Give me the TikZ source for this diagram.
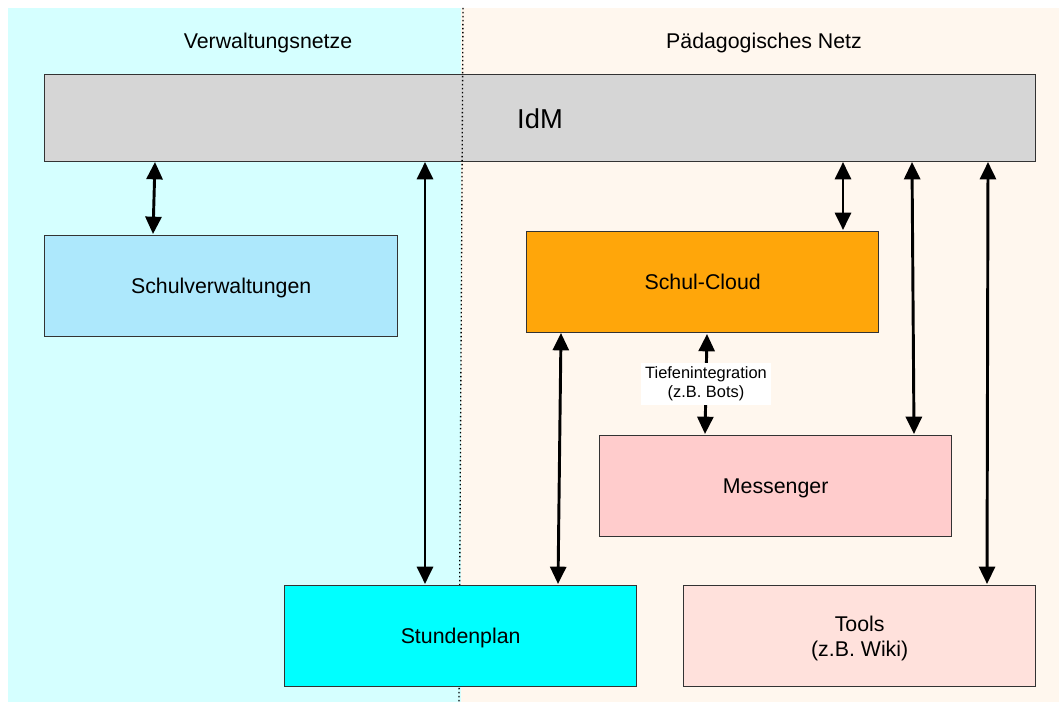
\documentclass[tikz,border=0pt]{standalone}
\usepackage{fontspec}
\setmainfont{Liberation Sans}
\usetikzlibrary{arrows.meta}
\definecolor{leftbg}{HTML}{D5FFFF}
\definecolor{rightbg}{HTML}{FFF7EE}
\definecolor{idmc}{HTML}{D6D6D6}
\definecolor{svc}{HTML}{ADE8FC}
\definecolor{scc}{HTML}{FFA60A}
\definecolor{msc}{HTML}{FFCCCC}
\definecolor{spc}{HTML}{00FFFF}
\definecolor{toc}{HTML}{FFE1DC}
\definecolor{bord}{HTML}{333333}
\tikzset{
  box/.style={draw=bord, line width=1pt, inner sep=0pt, anchor=north west, font=\fontsize{16}{19}\selectfont, align=center, text depth=-3pt},
  dbl/.style={{Triangle[length=13pt,width=12pt]}-{Triangle[length=13pt,width=12pt]}, line width=2.2pt, black},
  hdr/.style={font=\fontsize{16}{19}\selectfont}
}
\begin{document}
\begin{tikzpicture}[x=0.75pt,y=-0.75pt]
\useasboundingbox (0,0) rectangle (1059,702);
\fill[white] (0,0) rectangle (1059,702);
\fill[leftbg] (8,8) rectangle (461,702);
\fill[rightbg] (461,8) rectangle (1059,702);
\node[hdr] (hl) at (268,43) {Verwaltungsnetze};
\node[hdr] (hr) at (764,43) {Pädagogisches Netz};
\node[box, fill=idmc, minimum width=991*0.75pt, minimum height=87*0.75pt] (idm) at (44,74) {};
\node[font=\fontsize{20.5}{24}\selectfont] (idmt) at (540,119) {IdM};
\draw[dotted, line width=1pt] (463,8) -- (459,702);
\node[box, fill=svc, minimum width=353*0.75pt, minimum height=101*0.75pt] (sv) at (44,235) {Schulverwaltungen};
\node[box, fill=scc, minimum width=352*0.75pt, minimum height=101*0.75pt] (sc) at (526,231) {Schul-Cloud};
\node[box, fill=msc, minimum width=352*0.75pt, minimum height=101*0.75pt] (ms) at (599,435) {Messenger};
\node[box, fill=spc, minimum width=352*0.75pt, minimum height=101*0.75pt] (sp) at (284,585) {Stundenplan};
\node[box, fill=toc, minimum width=352*0.75pt, minimum height=101*0.75pt, text depth=0pt] (to) at (683,585) {Tools\\(z.B. Wiki)};
\coordinate (a1) at (155,162); \coordinate (b1) at (153,234);
\coordinate (a2) at (425,162); \coordinate (b2) at (425,584);
\coordinate (a3) at (843,162); \coordinate (b3) at (843,230);
\coordinate (a4) at (912,162); \coordinate (b4) at (914,434);
\coordinate (a5) at (988,162); \coordinate (b5) at (987,584);
\coordinate (a6) at (561,333); \coordinate (b6) at (558,584);
\coordinate (a7) at (707,334); \coordinate (b7) at (705,434);
\draw[dbl] (a1) -- (b1);
\draw[dbl] (a2) -- (b2);
\draw[dbl] (a3) -- (b3);
\draw[dbl] (a4) -- (b4);
\draw[dbl] (a5) -- (b5);
\draw[dbl] (a6) -- (b6);
\draw[dbl] (a7) -- node[fill=white, font=\fontsize{12.3}{14}\selectfont, align=center, inner xsep=3pt, inner ysep=3pt] (lbl) {Tiefenintegration\\(z.B. Bots)} (b7);
\end{tikzpicture}
\end{document}
